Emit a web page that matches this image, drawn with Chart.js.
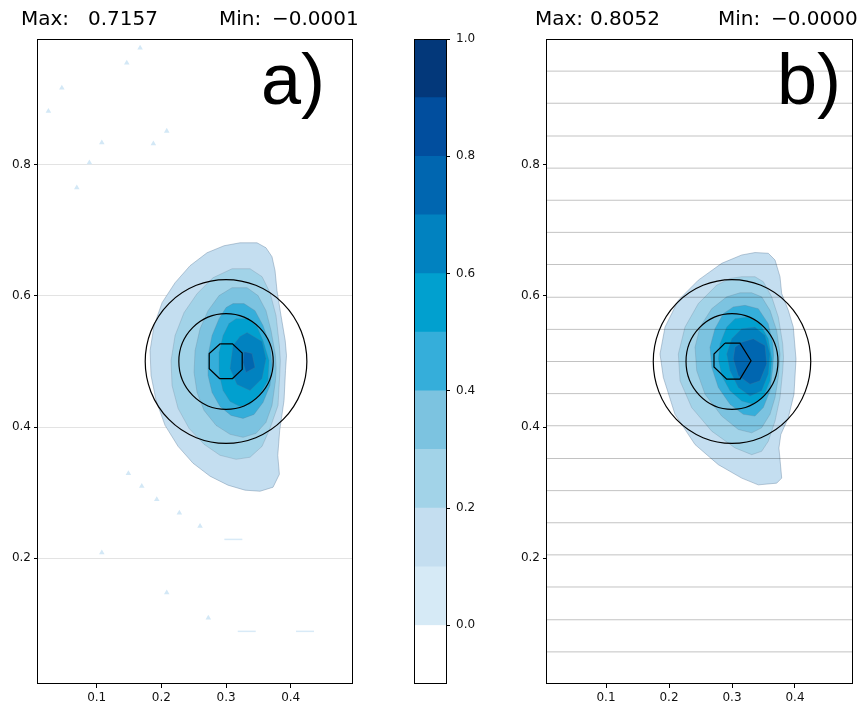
<!DOCTYPE html>
<html><head><meta charset="utf-8">
<script src="https://cdn.jsdelivr.net/npm/chart.js@4.4.1/dist/chart.umd.min.js"></script>
<style>
html,body{margin:0;padding:0;background:#fff;width:866px;height:707px;overflow:hidden;}
canvas{position:absolute;top:0;}
#ca{left:0px} #cbar{left:400px} #cb{left:500px}
</style></head><body>
<canvas id="ca" width="370" height="707"></canvas>
<canvas id="cbar" width="100" height="707"></canvas>
<canvas id="cb" width="366" height="707"></canvas>
<script>
// ---------- data ----------
const xTicks = [0.1, 0.2, 0.3, 0.4];
const yTicks = [0.2, 0.4, 0.6, 0.8];
const cbTicks = [0.0, 0.2, 0.4, 0.6, 0.8, 1.0];
const cbLevels = [-0.1, 0.0, 0.1, 0.2, 0.3, 0.4, 0.5, 0.6, 0.7, 0.8, 0.9, 1.0];
const cbColors = ['#ffffff','#d6eaf6','#c4def0','#a2d3e8','#7cc3e0','#35aeda','#01a0cf','#0182c0','#0066b0','#014e9e','#03387a'];
const contourLevels = [0.1, 0.2, 0.3, 0.4, 0.5, 0.6, 0.7];

const aMax = '0.7157', aMin = '\u22120.0001';
const bMax = '0.8052', bMin = '\u22120.0000';

const circleCenter = [0.3, 0.5];
const circleRadii = [0.125, 0.073];

// panel a filled contour regions (level 0.1 ... 0.7)
const aL1 = [[0.3216,0.6811],[0.3479,0.6811],[0.3618,0.6735],[0.3711,0.6598],[0.3758,0.6385],[0.3788,0.6081],[0.3850,0.5700],[0.3915,0.5320],[0.3935,0.5091],[0.3920,0.4863],[0.3897,0.4406],[0.3830,0.3950],[0.3800,0.3569],[0.3825,0.3280],[0.3727,0.3082],[0.3526,0.3021],[0.3294,0.3037],[0.3031,0.3113],[0.2753,0.3250],[0.2490,0.3448],[0.2258,0.3706],[0.2057,0.4026],[0.1918,0.4406],[0.1840,0.4787],[0.1825,0.5167],[0.1887,0.5548],[0.2011,0.5898],[0.2212,0.6202],[0.2443,0.6461],[0.2706,0.6659],[0.2969,0.6766]];
const aL2 = [[0.3093,0.6415],[0.3371,0.6415],[0.3557,0.6294],[0.3680,0.6050],[0.3773,0.5700],[0.3825,0.5244],[0.3840,0.5015],[0.3830,0.4787],[0.3804,0.4330],[0.3680,0.3980],[0.3557,0.3706],[0.3371,0.3539],[0.3155,0.3508],[0.2907,0.3569],[0.2660,0.3737],[0.2428,0.3980],[0.2258,0.4285],[0.2165,0.4635],[0.2150,0.5015],[0.2212,0.5396],[0.2351,0.5746],[0.2552,0.6035],[0.2799,0.6278]];
const aL3 = [[0.3093,0.6126],[0.3325,0.6126],[0.3495,0.6005],[0.3618,0.5776],[0.3696,0.5472],[0.3765,0.5091],[0.3775,0.4900],[0.3765,0.4711],[0.3711,0.4330],[0.3618,0.4072],[0.3464,0.3904],[0.3263,0.3843],[0.3062,0.3889],[0.2845,0.4026],[0.2660,0.4254],[0.2552,0.4528],[0.2505,0.4833],[0.2521,0.5167],[0.2598,0.5498],[0.2722,0.5776],[0.2892,0.6005]];
const aL4 = [[0.3108,0.5883],[0.3278,0.5883],[0.3448,0.5776],[0.3572,0.5548],[0.3680,0.5244],[0.3711,0.4939],[0.3680,0.4635],[0.3572,0.4376],[0.3433,0.4193],[0.3263,0.4132],[0.3077,0.4178],[0.2907,0.4315],[0.2784,0.4528],[0.2722,0.4787],[0.2722,0.5091],[0.2784,0.5396],[0.2892,0.5654],[0.3000,0.5822]];
const aL5 = [[0.3155,0.5654],[0.3340,0.5654],[0.3479,0.5533],[0.3572,0.5320],[0.3665,0.5015],[0.3649,0.4711],[0.3510,0.4483],[0.3371,0.4346],[0.3216,0.4315],[0.3062,0.4391],[0.2954,0.4559],[0.2892,0.4817],[0.2892,0.5137],[0.2954,0.5396],[0.3046,0.5578]];
const aL6 = [[0.3216,0.5380],[0.3325,0.5441],[0.3557,0.5304],[0.3618,0.5046],[0.3557,0.4741],[0.3371,0.4559],[0.3170,0.4650],[0.3062,0.4893],[0.3108,0.5244]];
const aL7 = [[0.3278,0.5152],[0.3402,0.5122],[0.3448,0.4909],[0.3309,0.4833],[0.3263,0.4985]];
const aInner = [[0.291,0.527],[0.310,0.527],[0.325,0.513],[0.325,0.488],[0.310,0.474],[0.290,0.474],[0.274,0.489],[0.274,0.512]];
const aSpecks = [[0.1671,0.9784],[0.1465,0.9556],[0.0461,0.9175],[0.0253,0.8820],[0.1079,0.8338],[0.0887,0.8033],[0.0692,0.7653],[0.2083,0.8516],[0.1876,0.8323],[0.1490,0.3291],[0.1697,0.3097],[0.1929,0.2895],[0.2278,0.2691],[0.2598,0.2489],[0.1079,0.2082],[0.2083,0.1473],[0.2726,0.1088]];
const aStreaks = [[0.3113,0.2286],[0.3320,0.0883],[0.4221,0.0883]];

// panel b filled contour regions (level 0.1 ... 0.7)
const bL1 = [[0.3365,0.6662],[0.3576,0.6651],[0.3683,0.6548],[0.3762,0.6293],[0.3789,0.6037],[0.3894,0.5780],[0.3973,0.5525],[0.4016,0.5038],[0.3984,0.4501],[0.3894,0.4143],[0.3775,0.3886],[0.3745,0.3680],[0.3765,0.3476],[0.3789,0.3221],[0.3709,0.3144],[0.3417,0.3118],[0.3154,0.3221],[0.2783,0.3426],[0.2413,0.3733],[0.2095,0.4194],[0.1910,0.4757],[0.1857,0.5115],[0.1937,0.5525],[0.2148,0.5934],[0.2465,0.6241],[0.2837,0.6498],[0.3154,0.6625]];
const bL2 = [[0.3154,0.6293],[0.3365,0.6293],[0.3497,0.6217],[0.3630,0.5986],[0.3735,0.5679],[0.3805,0.5269],[0.3818,0.5060],[0.3805,0.4859],[0.3762,0.4450],[0.3683,0.4091],[0.3576,0.3783],[0.3471,0.3630],[0.3313,0.3579],[0.3048,0.3682],[0.2678,0.3937],[0.2360,0.4297],[0.2175,0.4705],[0.2148,0.5115],[0.2254,0.5525],[0.2465,0.5883],[0.2757,0.6164],[0.2968,0.6267]];
const bL3 = [[0.3127,0.6048],[0.3313,0.6048],[0.3471,0.5986],[0.3603,0.5780],[0.3709,0.5473],[0.3762,0.5115],[0.3735,0.4757],[0.3683,0.4450],[0.3603,0.4194],[0.3471,0.3989],[0.3313,0.3912],[0.3100,0.3963],[0.2837,0.4167],[0.2572,0.4501],[0.2440,0.4859],[0.2413,0.5218],[0.2492,0.5525],[0.2678,0.5806],[0.2916,0.5986]];
const bL4 = [[0.3021,0.5833],[0.3206,0.5857],[0.3417,0.5806],[0.3576,0.5576],[0.3648,0.5269],[0.3660,0.5090],[0.3648,0.4911],[0.3603,0.4552],[0.3497,0.4297],[0.3365,0.4167],[0.3179,0.4194],[0.2968,0.4347],[0.2783,0.4604],[0.2678,0.4911],[0.2651,0.5218],[0.2730,0.5501],[0.2862,0.5730]];
const bL5 = [[0.3048,0.5653],[0.3259,0.5679],[0.3444,0.5576],[0.3576,0.5346],[0.3630,0.5038],[0.3603,0.4705],[0.3497,0.4450],[0.3338,0.4347],[0.3154,0.4398],[0.2968,0.4552],[0.2837,0.4782],[0.2783,0.5038],[0.2810,0.5269],[0.2916,0.5525]];
const bL6 = [[0.3154,0.5499],[0.3365,0.5525],[0.3524,0.5396],[0.3603,0.5115],[0.3576,0.4808],[0.3471,0.4552],[0.3286,0.4475],[0.3100,0.4604],[0.2968,0.4859],[0.2916,0.5115],[0.2995,0.5346]];
const bL7 = [[0.3154,0.5295],[0.3338,0.5346],[0.3524,0.5243],[0.3551,0.4962],[0.3444,0.4705],[0.3286,0.4654],[0.3100,0.4782],[0.3021,0.5038],[0.3048,0.5218]];
const bInner = [[0.2889,0.5280],[0.3127,0.5280],[0.3302,0.5012],[0.3127,0.4731],[0.2916,0.4731],[0.2714,0.4916],[0.2714,0.5115]];
// horizontal lines in panel b
const bLines = [0.057,0.106,0.156,0.205,0.254,0.303,0.352,0.402,0.451,0.500,0.549,0.598,0.648,0.697,0.746,0.795,0.844,0.894,0.943];

// axis ranges
const aX = [0.0092, 0.4948], bX = [0.0063, 0.4905], yRange = [0.008, 0.992];

// ---------- helpers ----------
function poly(arr){ const p = arr.map(v => ({x: v[0], y: v[1]})); p.push({x: arr[0][0], y: arr[0][1]}); return p; }
function bandColor(level){ const i = cbLevels.findIndex(l => Math.abs(l - level) < 1e-9); return cbColors[i]; }
const FONT = "'DejaVu Sans', sans-serif";

function decoPlugin(texts, circles){
  return {
    id: 'deco',
    afterDatasetsDraw(chart){
      if (!circles) return;
      const {ctx, scales: {x, y}} = chart;
      ctx.save(); ctx.strokeStyle = '#000'; ctx.lineWidth = 1.2;
      circleRadii.forEach(r => {
        const cx = x.getPixelForValue(circleCenter[0]), cy = y.getPixelForValue(circleCenter[1]);
        const rx = Math.abs(x.getPixelForValue(circleCenter[0] + r) - cx);
        const ry = Math.abs(y.getPixelForValue(circleCenter[1] + r) - cy);
        ctx.beginPath(); ctx.ellipse(cx, cy, rx, ry, 0, 0, Math.PI * 2); ctx.stroke();
      });
      ctx.restore();
    },
    afterDraw(chart){
      const {ctx, chartArea: a} = chart;
      ctx.save();
      ctx.strokeStyle = '#000'; ctx.lineWidth = 1;
      ctx.strokeRect(Math.round(a.left) - 0.5, Math.round(a.top) + 0.5, Math.round(a.right - a.left) + 1, Math.round(a.bottom - a.top) - 1);
      texts.forEach(t => {
        ctx.font = t.font; ctx.fillStyle = '#000'; ctx.textAlign = 'left'; ctx.textBaseline = 'alphabetic';
        ctx.fillText(t.s, t.x, t.y);
      });
      ctx.restore();
    }
  };
}

function panel(id, contours, inner, xr, yAxisW, padRight, texts, extra, gridOnChart){
  const ds = [];
  contours.forEach((c, i) => {
    ds.push({data: poly(c), showLine: true, fill: 'shape', backgroundColor: bandColor(contourLevels[i]),
      borderColor: i === 0 ? 'rgba(100,130,160,0.42)' : 'rgba(100,120,140,0.25)', borderWidth: 1,
      pointRadius: 0, pointHoverRadius: 0, order: 20 - i});
  });
  ds.push({data: poly(inner), showLine: true, fill: false, borderColor: '#000', borderWidth: 1.2, pointRadius: 0, order: 1});
  extra.forEach(d => ds.push(d));
  return new Chart(document.getElementById(id), {
    type: 'scatter',
    data: {datasets: ds},
    options: {
      responsive: false, animation: false, events: [], devicePixelRatio: 1,
      layout: {padding: {left: 0, right: padRight, top: 39, bottom: 0}},
      plugins: {legend: {display: false}, tooltip: {enabled: false}},
      scales: {
        x: {type: 'linear', min: xr[0], max: xr[1],
          afterFit: s => { s.height = 23; },
          afterBuildTicks: s => { s.ticks = xTicks.map(v => ({value: v})); },
          grid: {drawOnChartArea: false, tickLength: 4, tickColor: '#000', lineWidth: 1},
          border: {display: false},
          ticks: {color: '#111', font: {family: FONT, size: 12}, padding: 3, maxRotation: 0, callback: v => v.toFixed(1)}},
        y: {type: 'linear', min: yRange[0], max: yRange[1],
          afterFit: s => { s.width = yAxisW; },
          afterBuildTicks: s => { s.ticks = yTicks.map(v => ({value: v})); },
          grid: {drawOnChartArea: gridOnChart, color: '#e3e3e3', tickLength: 4, tickColor: '#000', lineWidth: 1},
          border: {display: false},
          ticks: {color: '#111', font: {family: FONT, size: 12}, padding: 3, callback: v => v.toFixed(1)}}
      }
    },
    plugins: [decoPlugin(texts, true)]
  });
}

const TF = "20px 'DejaVu Sans', sans-serif";
const BIG = "72px 'Liberation Sans', Arial, sans-serif";

// panel a
panel('ca', [aL1, aL2, aL3, aL4, aL5, aL6, aL7], aInner, aX, 38, 18,
  [{s: 'Max:', x: 21, y: 25, font: TF}, {s: aMax, x: 88, y: 25, font: TF},
   {s: 'Min:', x: 219, y: 25, font: TF}, {s: aMin, x: 272, y: 25, font: TF},
   {s: 'a)', x: 261, y: 104, font: BIG}],
  [{data: aSpecks.map(p => ({x: p[0], y: p[1]})), showLine: false, pointStyle: 'triangle', pointRadius: 3.2,
     pointBackgroundColor: '#d3e8f6', pointBorderWidth: 0, order: 30},
   {data: aStreaks.map(p => ({x: p[0], y: p[1]})), showLine: false, pointStyle: 'line', pointRadius: 9,
     pointBorderColor: '#d8eaf7', pointBorderWidth: 1.5, order: 30}],
  true);

// panel b
panel('cb', [bL1, bL2, bL3, bL4, bL5, bL6, bL7], bInner, bX, 47, 14,
  [{s: 'Max:', x: 35, y: 25, font: TF}, {s: bMax, x: 90, y: 25, font: TF},
   {s: 'Min:', x: 218, y: 25, font: TF}, {s: bMin, x: 271, y: 25, font: TF},
   {s: 'b)', x: 277, y: 104, font: BIG}],
  bLines.map(v => ({data: [{x: bX[0], y: v}, {x: bX[1], y: v}], showLine: true, fill: false,
     borderColor: 'rgba(0,0,0,0.24)', borderWidth: 1, pointRadius: 0, order: 5})),
  false);

// colorbar
new Chart(document.getElementById('cbar'), {
  type: 'bar',
  data: {labels: ['cb'], datasets: cbColors.map((c, i) => ({data: [[cbLevels[i], cbLevels[i + 1]]], backgroundColor: c,
    borderWidth: 0, grouped: false, barPercentage: 1, categoryPercentage: 1}))},
  options: {
    responsive: false, animation: false, events: [], devicePixelRatio: 1,
    layout: {padding: {left: 15, right: 0, top: 39, bottom: 23}},
    plugins: {legend: {display: false}, tooltip: {enabled: false}},
    scales: {
      x: {display: false},
      y: {position: 'right', min: cbLevels[0], max: cbLevels[cbLevels.length - 1],
        afterFit: s => { s.width = 54; },
        afterBuildTicks: s => { s.ticks = cbTicks.map(v => ({value: v})); },
        grid: {drawOnChartArea: false, tickLength: 4, tickColor: '#000'},
        border: {display: false},
        ticks: {color: '#111', font: {family: FONT, size: 12}, padding: 6, callback: v => v.toFixed(1)}}
    }
  },
  plugins: [decoPlugin([], false)]
});
</script>
</body></html>
